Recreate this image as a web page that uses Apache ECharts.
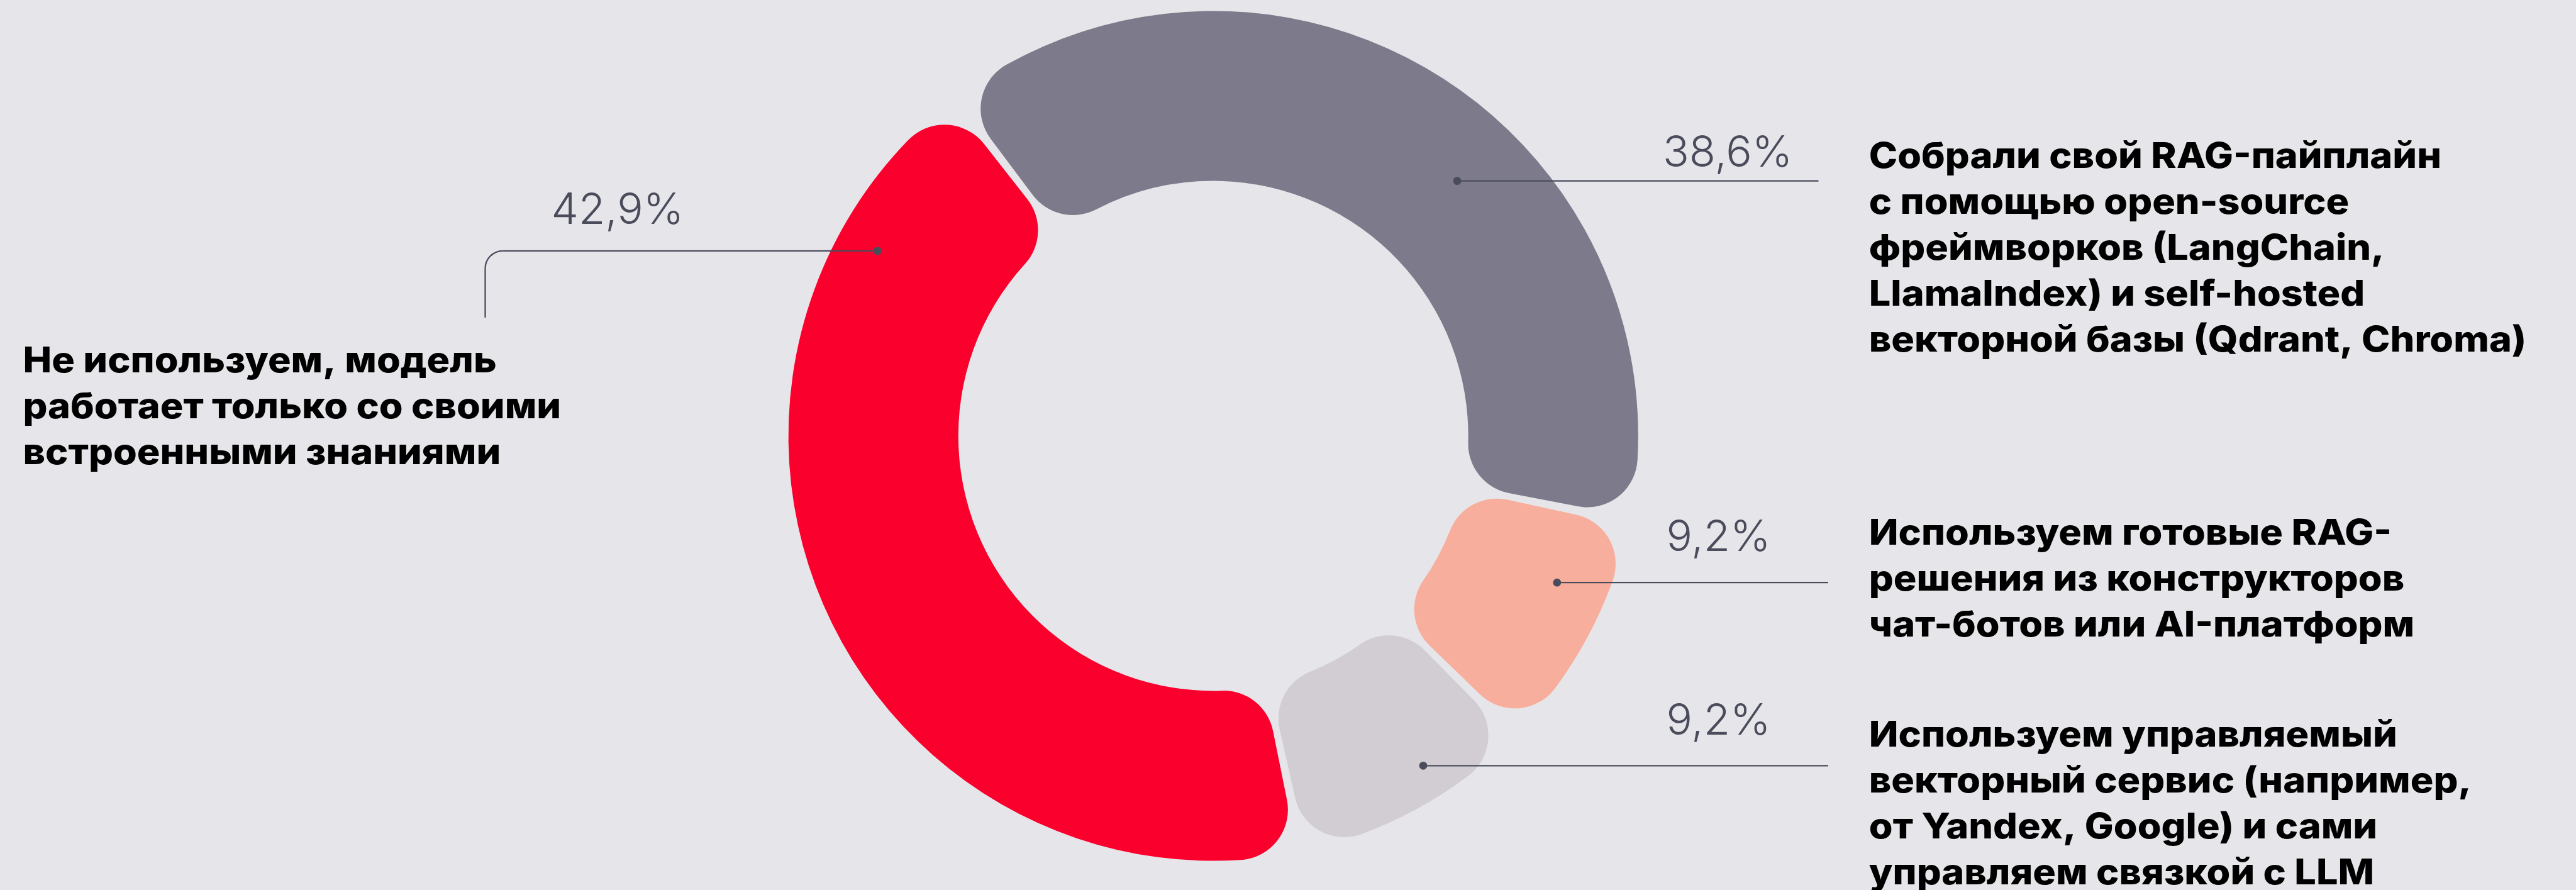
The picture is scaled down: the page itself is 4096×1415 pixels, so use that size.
<!DOCTYPE html>
<html>
<head>
<meta charset="utf-8">
<script src="https://cdn.jsdelivr.net/npm/echarts@6/dist/echarts.min.js"></script>
<style>
  html, body { margin: 0; padding: 0; background: #e6e6ea; }
  #chart { width: 4096px; height: 1415px; }
</style>
</head>
<body>
<div id="chart"></div>
<script>
// ---- data ----
const categories = [
  'Собрали свой RAG-пайплайн\nс помощью open-source\nфреймворков (LangChain,\nLlamaIndex) и self-hosted\nвекторной базы (Qdrant, Chroma)',
  'Используем готовые RAG-\nрешения из конструкторов\nчат-ботов или AI-платформ',
  'Используем управляемый\nвекторный сервис (например,\nот Yandex, Google) и сами\nуправляем связкой с LLM',
  'Не используем, модель\nработает только со своими\nвстроенными знаниями'
];
const values = [38.6, 9.2, 9.2, 42.9];
const colors = ['#7d7b8b', '#f8ae9d', '#d1cdd3', '#fa002d'];

// ---- layout (output pixels) ----
const CX = 1929.2, CY = 693, R_IN = 405.4, R_OUT = 675.6;
const START_ANGLE = 127.5; // echarts degrees (ccw from 3 o'clock)
// dot position inside each slice: fraction along the arc, fraction across ring
const dotFrac = [0.584, 0.347, 0.385, 0.847];
const dotRing = [0.576, 0.699, 0.80, 0.756];
// label layout per slice
const side = ['right', 'right', 'right', 'left'];
const lineEndX = [2891.5, 2907, 2907, 800];
const pctX = [2644, 2649.5, 2649.5, 876.5];
const pctBaseline = [264.8, 875.6, 1167.7, 356];
const textX = [2971.8, 2971.8, 2971.8, 36.5];
const textBaseline = [266.6, 866.4, 1186.9, 591.6];
const leftCorner = { x: 771.5, r: 28, bottom: 504.9 };

const PCT_FONT = 69, TXT_FONT = 56.6, TXT_LH = 73, TXT_WIDEN = 1.08;
const INK = '#4a4c5c';

function fmt(v) { return v.toFixed(1).replace('.', ',') + '%'; }

const total = values.reduce((a, b) => a + b, 0);
const graphics = [];
let cum = 0;
values.forEach((v, i) => {
  const startClock = 90 - START_ANGLE + cum / total * 360;
  const span = v / total * 360;
  cum += v;
  const a = (startClock + dotFrac[i] * span) * Math.PI / 180;
  const r = R_IN + dotRing[i] * (R_OUT - R_IN);
  const dx = CX + r * Math.sin(a);
  const dy = CY - r * Math.cos(a);
  graphics.push({ type: 'circle', z: 100, shape: { cx: dx, cy: dy, r: 6.4 }, style: { fill: INK } });
  if (side[i] === 'right') {
    graphics.push({ type: 'line', z: 100, shape: { x1: dx, y1: dy, x2: lineEndX[i], y2: dy }, style: { stroke: INK, lineWidth: 2.3 } });
  } else {
    const c = leftCorner;
    graphics.push({ type: 'line', z: 100, shape: { x1: dx, y1: dy, x2: c.x + c.r, y2: dy }, style: { stroke: INK, lineWidth: 2.3 } });
    graphics.push({ type: 'arc', z: 100, shape: { cx: c.x + c.r, cy: dy + c.r, r: c.r, startAngle: Math.PI, endAngle: Math.PI * 1.5, clockwise: true }, style: { stroke: INK, lineWidth: 2.3, fill: null } });
    graphics.push({ type: 'line', z: 100, shape: { x1: c.x, y1: dy + c.r, x2: c.x, y2: c.bottom }, style: { stroke: INK, lineWidth: 2.3 } });
  }
  graphics.push({
    type: 'text', z: 100, x: pctX[i], y: pctBaseline[i] - 0.3 * PCT_FONT,
    style: { text: fmt(v), fill: INK, font: '300 ' + PCT_FONT + 'px Inter', textAlign: 'left', textVerticalAlign: 'middle' }
  });
  graphics.push({
    type: 'text', z: 100, x: textX[i], y: textBaseline[i] - TXT_LH / 2 - 0.3 * TXT_FONT,
    scaleX: TXT_WIDEN,
    style: { text: categories[i], fill: '#000000', fontFamily: 'Inter', fontWeight: 800, fontSize: TXT_FONT, lineHeight: TXT_LH, textAlign: 'left', textVerticalAlign: 'top' }
  });
});

const chart = echarts.init(document.getElementById('chart'), null, { renderer: 'canvas' });
chart.setOption({
  backgroundColor: '#e6e6ea',
  animation: false,
  series: [{
    type: 'pie',
    silent: true,
    center: [CX, CY],
    radius: [R_IN, R_OUT],
    startAngle: START_ANGLE,
    clockwise: true,
    padAngle: 1.3,
    label: { show: false },
    labelLine: { show: false },
    itemStyle: { borderRadius: 80 },
    data: values.map((v, i) => ({ value: v, name: categories[i], itemStyle: { color: colors[i] } }))
  }],
  graphic: { elements: graphics }
});
</script>
</body>
</html>
